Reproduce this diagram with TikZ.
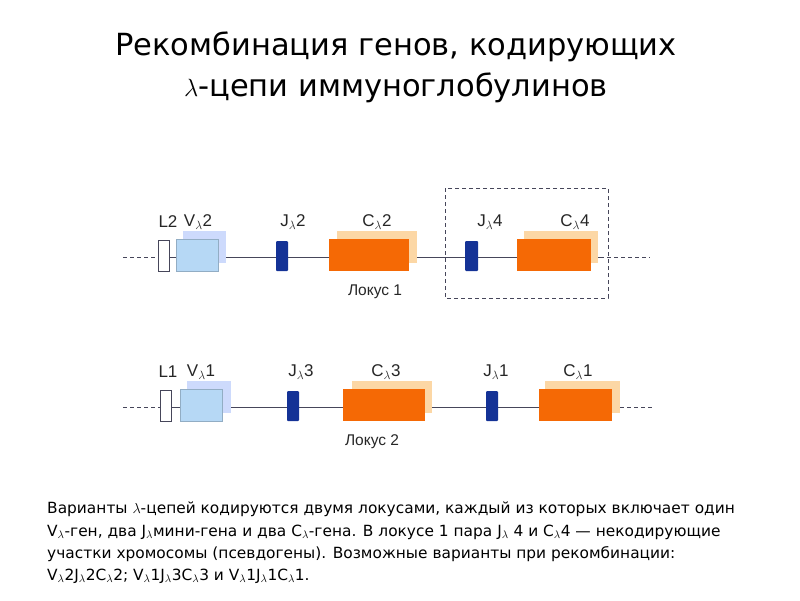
\documentclass[tikz,border=0pt]{standalone}
\usepackage{fontspec}
\setmainfont{DejaVu Sans}
\newfontfamily\lab{Liberation Sans}
\newcommand{\lsub}{$_\lambda$}
\definecolor{vmain}{RGB}{182,216,245}
\definecolor{vsh}{RGB}{205,218,252}
\definecolor{cmain}{RGB}{245,105,5}
\definecolor{csh}{RGB}{252,215,165}
\definecolor{jblue}{RGB}{20,50,150}
\definecolor{linec}{RGB}{70,70,90}
\begin{document}
\begin{tikzpicture}[x=1pt,y=-1pt,
  lbl/.style={font=\lab\fontsize{17}{19}\selectfont,text=black!85},
  lok/.style={font=\lab\fontsize{15.5}{18}\selectfont,text=black!85},
  body/.style={anchor=base west,inner sep=0,font=\fontsize{15.4}{18}\selectfont},
  dna/.style={linec,line width=0.8pt},
  dnad/.style={linec,line width=0.8pt,dash pattern=on 4pt off 3pt}]
\useasboundingbox (0,0) rectangle (800,600);
\node[font=\fontsize{30.5}{36}\selectfont] (t1) at (396,47) {Рекомбинация генов, кодирующих};
\node[font=\fontsize{30.5}{36}\selectfont] (t2) at (396,88) {$\lambda$-цепи иммуноглобулинов};
% locus 1
\coordinate (a1) at (123,257); \coordinate (b1) at (160,257);
\coordinate (c1) at (600,257); \coordinate (d1) at (650,257);
\draw[dnad] (a1)--(b1); \draw[dna] (b1)--(c1); \draw[dnad] (c1)--(d1);
\fill[vsh] (183,231) rectangle (226,263);
\fill[csh] (337,231) rectangle (417,263);
\fill[csh] (524,231) rectangle (598,263);
\node[draw=linec,fill=white,line width=0.8pt,minimum width=11pt,minimum height=31pt,inner sep=0] (L2) at (163.5,255.5) {};
\node[fill=vmain,draw=vmain!80!black,line width=0.3pt,minimum width=42pt,minimum height=32pt,inner sep=0] (V2) at (197,255) {};
\node[fill=jblue,rounded corners=1pt,minimum width=12pt,minimum height=30pt,inner sep=0] (J2) at (282,256) {};
\node[fill=cmain,minimum width=80pt,minimum height=32pt,inner sep=0] (C2) at (369,255) {};
\node[fill=jblue,rounded corners=1pt,minimum width=13pt,minimum height=30pt,inner sep=0] (J4) at (471.5,256) {};
\node[fill=cmain,minimum width=74pt,minimum height=32pt,inner sep=0] (C4) at (554,255) {};
\draw[dnad] (445,188) rectangle (608,298);
\node[lbl] at (168,222) {L2};
\node[lbl] at (198,222) {V\lsub2};
\node[lbl] at (293,222) {J\lsub2};
\node[lbl] at (377,222) {C\lsub2};
\node[lbl] at (490,222) {J\lsub4};
\node[lbl] at (575,222) {C\lsub4};
\node[lok] at (375,292) {Локус 1};
% locus 2
\coordinate (a2) at (123,407); \coordinate (b2) at (160,407);
\coordinate (c2) at (620,407); \coordinate (d2) at (652,407);
\draw[dnad] (a2)--(b2); \draw[dna] (b2)--(c2); \draw[dnad] (c2)--(d2);
\fill[vsh] (187,381) rectangle (231,413);
\fill[csh] (352,381) rectangle (432,413);
\fill[csh] (545,381) rectangle (620,413);
\node[draw=linec,fill=white,line width=0.8pt,minimum width=11pt,minimum height=31pt,inner sep=0] (L1) at (165.5,405.5) {};
\node[fill=vmain,draw=vmain!80!black,line width=0.3pt,minimum width=42pt,minimum height=32pt,inner sep=0] (V1) at (201,405) {};
\node[fill=jblue,rounded corners=1pt,minimum width=12pt,minimum height=30pt,inner sep=0] (J3) at (293,406) {};
\node[fill=cmain,minimum width=82pt,minimum height=32pt,inner sep=0] (C3) at (384,405) {};
\node[fill=jblue,rounded corners=1pt,minimum width=12pt,minimum height=30pt,inner sep=0] (J1) at (492,406) {};
\node[fill=cmain,minimum width=73pt,minimum height=32pt,inner sep=0] (C1) at (575.5,405) {};
\node[lbl] at (168,372) {L1};
\node[lbl] at (201,372) {V\lsub1};
\node[lbl] at (301,372) {J\lsub3};
\node[lbl] at (386,372) {C\lsub3};
\node[lbl] at (496,372) {J\lsub1};
\node[lbl] at (578,372) {C\lsub1};
\node[lok] at (372,442) {Локус 2};
% text
\node[body] (p1) at (47,513) {Варианты $\lambda$-цепей кодируются двумя локусами, каждый из которых включает один};
\node[body] (p2) at (47,536) {V\lsub-ген, два J\lsub мини-гена и два C\lsub-гена. В локусе 1 пара J\lsub\ 4 и C\lsub4 — некодирующие};
\node[body] (p3) at (47,558) {участки хромосомы (псевдогены). Возможные варианты при рекомбинации:};
\node[body] (p4) at (47,580) {V\lsub2J\lsub2C\lsub2; V\lsub1J\lsub3C\lsub3 и V\lsub1J\lsub1C\lsub1.};
\end{tikzpicture}
\end{document}
